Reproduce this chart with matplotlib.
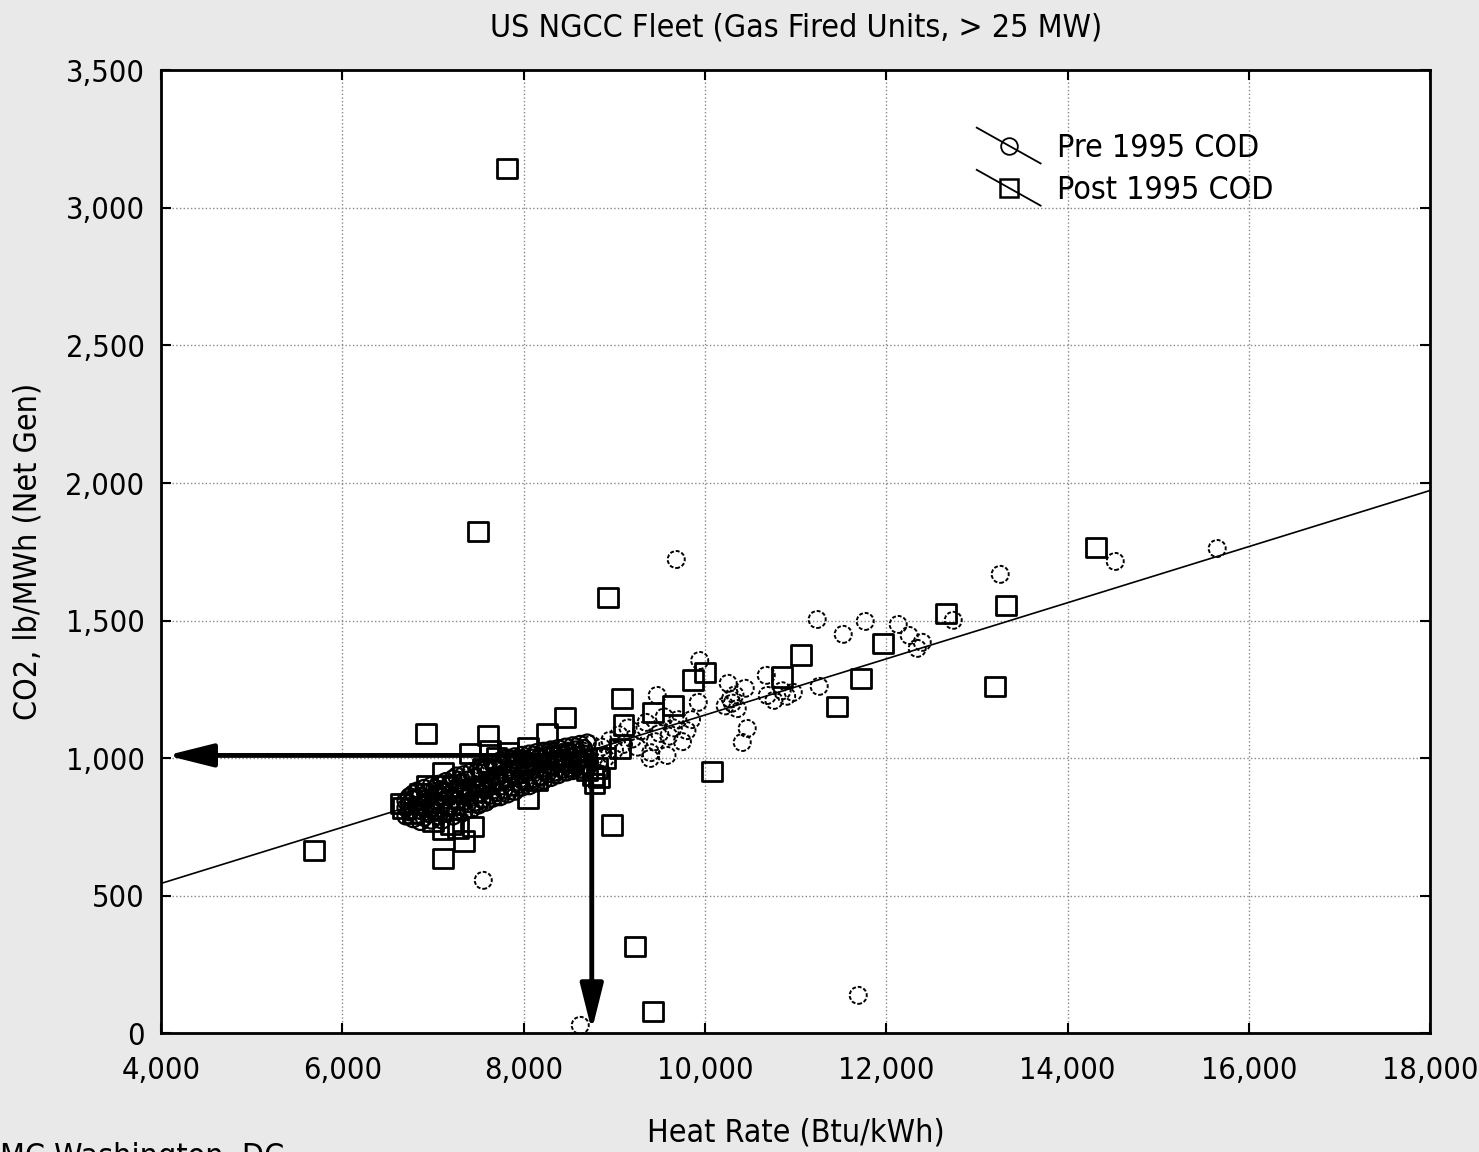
#!/usr/bin/env python

import numpy as np
import matplotlib
matplotlib.use('Agg')
import matplotlib.pyplot as plt
import matplotlib as mpl
from matplotlib.lines import Line2D
from matplotlib.legend_handler import HandlerBase

mpl.rcParams['font.family'] = ['DejaVu Sans']
mpl.rcParams['font.stretch'] = 'condensed'
mpl.rcParams['font.size'] = 22
mpl.rcParams['xtick.top'] = True
mpl.rcParams['ytick.right'] = True
mpl.rcParams['xtick.direction'] = 'in'
mpl.rcParams['ytick.direction'] = 'in'

# Pre 1995 COD units (heat rate Btu/kWh, CO2 lb/MWh)
pre_x = [6780, 6850, 6900, 6920, 6960, 7000, 7010, 7040, 7060, 7080, 7100, 7120, 7140, 7160,
         7180, 7200, 7220, 7240, 7260, 7280, 7300, 7320, 7340, 7360, 7380, 7400, 7420, 7440,
         7460, 7480, 7500, 7520, 7540, 7560, 7580, 7600, 7620, 7640, 7660, 7680, 7700, 7720,
         7740, 7760, 7780, 7800, 7820, 7840, 7860, 7880, 7900, 7920, 7940, 7960, 7980, 8000,
         8030, 8060, 8090, 8120, 8150, 8180, 8210, 8240, 8270, 8300, 8330, 8360, 8390, 8420,
         8450, 8480, 8510, 8540, 8570, 8600, 8630, 8660, 8700, 8740, 8780, 8820, 8860, 8900,
         8950, 9000, 9050, 9100, 9150, 9200, 9250, 9300, 9350, 9450, 9500, 9550, 9600, 9650,
         9700, 9750, 9800,
         9682, 7553, 11690, 8623, 13256, 14525, 15650, 11237, 11767, 11524, 12131, 12252,
         12396, 12341, 12738, 11259, 10675, 10686, 10973, 10760, 9941, 9925, 9472, 10255,
         10443, 10465, 10410, 9395, 9580, 10222, 10300, 10355, 10280, 10330, 10850, 10900,
         9850, 9400]
pre_y = [815, 830, 805, 850, 825, 790, 870, 840, 815, 885, 860, 800, 835, 900,
         870, 815, 850, 890, 830, 920, 865, 800, 900, 845, 930, 875, 820, 905,
         860, 945, 890, 835, 920, 870, 960, 905, 850, 935, 885, 970, 915, 865,
         950, 900, 985, 930, 880, 960, 915, 995, 945, 895, 975, 925, 1000, 955,
         910, 985, 940, 1010, 965, 930, 995, 955, 1020, 975, 940, 1005, 960, 1030,
         985, 950, 1015, 975, 1040, 995, 960, 1025, 985, 1050, 1005, 970, 1040, 1000,
         1065, 1030, 1085, 1050, 1110, 1070, 1040, 1100, 1130, 1060, 1090, 1150, 1080, 1110,
         1140, 1060, 1100,
         1722, 556, 138, 29, 1668, 1715, 1762, 1504, 1497, 1450, 1486, 1446,
         1421, 1399, 1501, 1261, 1301, 1228, 1239, 1210, 1355, 1203, 1228, 1272,
         1254, 1108, 1057, 999, 1010, 1190, 1200, 1180, 1215, 1230, 1245, 1225,
         1140, 1020]

# the dense core of pre 1995 units
blob_x = [6700, 6700, 6700, 6740, 6740, 6740, 6780, 6780, 6780, 6820, 6820, 6820,
          6860, 6860, 6860, 6900, 6900, 6900, 6940, 6940, 6940, 6980, 6980, 6980,
          7020, 7020, 7020, 7060, 7060, 7060, 7100, 7100, 7100, 7140, 7140, 7140,
          7180, 7180, 7180, 7220, 7220, 7220, 7260, 7260, 7260, 7300, 7300, 7300,
          7340, 7340, 7340, 7380, 7380, 7380, 7420, 7420, 7420, 7460, 7460, 7460,
          7500, 7500, 7500, 7540, 7540, 7540, 7580, 7580, 7580, 7620, 7620, 7620,
          7660, 7660, 7660, 7700, 7700, 7700, 7740, 7740, 7740, 7780, 7780, 7780,
          7820, 7820, 7820, 7860, 7860, 7860, 7900, 7900, 7900, 7940, 7940, 7940,
          7980, 7980, 7980, 8020, 8020, 8020, 8060, 8060, 8060, 8100, 8100, 8100,
          8140, 8140, 8140, 8180, 8180, 8180, 8220, 8220, 8220, 8260, 8260, 8260,
          8300, 8300, 8300, 8340, 8340, 8340, 8380, 8380, 8380, 8420, 8420, 8420,
          8460, 8460, 8460, 8500, 8500, 8500, 8540, 8540, 8540, 8580, 8580, 8580,
          8620, 8620, 8620, 8660, 8660, 8660, 8700, 8700, 8700]
blob_y = [790, 820, 845, 805, 835, 860, 780, 850, 870, 795, 825, 880,
          770, 810, 860, 785, 840, 890, 800, 855, 875, 775, 820, 900,
          810, 845, 890, 790, 860, 905, 775, 830, 880, 800, 850, 915,
          820, 865, 900, 790, 880, 925, 810, 845, 935, 825, 870, 910,
          805, 890, 940, 835, 860, 920, 815, 880, 950, 840, 900, 930,
          830, 870, 960, 850, 905, 945, 840, 885, 970, 865, 920, 955,
          855, 900, 980, 875, 935, 965, 860, 915, 990, 885, 945, 975,
          870, 925, 1000, 895, 955, 985, 880, 935, 1005, 905, 960, 990,
          895, 940, 1010, 915, 970, 995, 900, 950, 1015, 925, 975, 1000,
          910, 960, 1020, 935, 985, 1005, 920, 965, 1025, 945, 990, 1010,
          930, 970, 1030, 950, 995, 1015, 940, 980, 1035, 960, 1000, 1020,
          950, 985, 1040, 965, 1005, 1025, 955, 990, 1045, 970, 1010, 1030,
          960, 995, 1050, 975, 1015, 1035, 965, 1000, 1055]

# Post 1995 COD units
post_x = [7817, 7497, 8932, 6924, 5688, 7111, 7343, 7442, 7111, 7277, 8976, 10079, 9229,
          9428, 13201, 13323, 14316, 12661, 11966, 11723, 11458, 11061, 10851, 10002, 9869,
          9086, 9428, 9649, 8457, 8259, 7608, 7409, 7630, 7828, 8049, 7111, 6935, 6670,
          6640, 8049, 8148, 8700, 8810, 8830, 8900, 9100, 6780, 6850, 7000, 7200, 7300,
          8766, 8780, 9064, 7900, 8350, 7550, 7150, 7700]
post_y = [3143, 1824, 1584, 1090, 665, 636, 698, 752, 741, 745, 756, 952, 316,
          80, 1261, 1555, 1766, 1526, 1417, 1290, 1188, 1374, 1294, 1312, 1283,
          1217, 1166, 1192, 1148, 1090, 1083, 1017, 1028, 1021, 1039, 945, 901, 818,
          835, 854, 919, 956, 965, 930, 1000, 1120, 800, 870, 770, 760, 880,
          937, 908, 1035, 990, 1010, 960, 900, 1000]

# linear fit through the fleet
fit_intercept = 545.0   # CO2 at 4,000 Btu/kWh
fit_slope = 0.102       # lb/MWh per Btu/kWh
fit_x = [4000, 18000]

# highlighted reading
target_hr = 8750
target_co2 = 1010

x_ticks = [4000, 6000, 8000, 10000, 12000, 14000, 16000, 18000]
y_ticks = [0, 500, 1000, 1500, 2000, 2500, 3000, 3500]


class DiagHandler(HandlerBase):
    # diagonal line through the marker, as in the original legend
    def create_artists(self, legend, orig, xdescent, ydescent, width, height, fontsize, trans):
        x0, y0 = -xdescent, -ydescent
        ln = Line2D([x0, x0 + width], [y0 + height * 1.3, y0 - height * 0.3],
                    color='black', lw=1.3, transform=trans)
        mk = Line2D([x0 + width / 2], [y0 + height / 2], marker=orig.get_marker(),
                    markersize=orig.get_markersize(), markerfacecolor='none',
                    markeredgecolor='black', markeredgewidth=orig.get_markeredgewidth(),
                    linestyle='none', transform=trans)
        return [ln, mk]


fig = plt.figure(figsize=(14.79, 11.52), dpi=100, facecolor='#e9e9e9')
ax = fig.add_axes([0.109, 0.103, 0.858, 0.836])
ax.set_facecolor('white')

fx = np.array(fit_x, dtype=float)
ax.plot(fx, fit_intercept + fit_slope * (fx - 4000), color='black', lw=1.2, zorder=2)

ax.scatter(post_x, post_y, s=200, marker='s', facecolors='none', edgecolors='black',
           linewidths=2.0, zorder=3)
ax.scatter(blob_x, blob_y, s=150, marker='o', facecolors='none', edgecolors='black',
           linewidths=1.6, zorder=3)
ax.scatter(pre_x, pre_y, s=150, marker='o', facecolors='none', edgecolors='black',
           linewidths=1.4, linestyle=(0, (2, 1)), zorder=3)

ax.annotate('', xy=(4060, target_co2), xytext=(target_hr, target_co2),
            arrowprops=dict(arrowstyle='-|>,head_length=1.4,head_width=0.35',
                            lw=3.5, color='black', mutation_scale=20, shrinkA=0, shrinkB=0),
            zorder=5)
ax.annotate('', xy=(target_hr, 10), xytext=(target_hr, target_co2),
            arrowprops=dict(arrowstyle='-|>,head_length=1.4,head_width=0.35',
                            lw=3.5, color='black', mutation_scale=20, shrinkA=0, shrinkB=0),
            zorder=5)

ax.set_xlim(4000, 18000)
ax.set_ylim(0, 3500)
ax.set_xticks(x_ticks)
ax.set_yticks(y_ticks)
ax.set_xticklabels(['{:,}'.format(v) for v in x_ticks])
ax.set_yticklabels(['{:,}'.format(v) for v in y_ticks])
ax.tick_params(axis='x', pad=16)
ax.tick_params(axis='y', pad=12)
ax.tick_params(length=7, width=1.5, labelsize=22)
ax.grid(True, linestyle=':', color='#888888', lw=1.0)
ax.set_axisbelow(True)
for sp in ax.spines.values():
    sp.set_linewidth(2)

ax.set_xlabel('Heat Rate (Btu/kWh)', fontsize=23, labelpad=24)
ax.set_ylabel('CO2, lb/MWh (Net Gen)', fontsize=23, labelpad=16)
ax.set_title('US NGCC Fleet (Gas Fired Units, > 25 MW)', fontsize=23, pad=24)

h1 = Line2D([], [], marker='o', markersize=12, markeredgewidth=1.3, linestyle='none')
h2 = Line2D([], [], marker='s', markersize=13, markeredgewidth=1.8, linestyle='none')
ax.legend([h1, h2], ['Pre 1995 COD', 'Post 1995 COD'],
          handler_map={h1: DiagHandler(), h2: DiagHandler()},
          loc='upper left', bbox_to_anchor=(0.62, 0.965), frameon=False,
          fontsize=23, handlelength=2.0, handletextpad=0.5, labelspacing=0.35)

fig.text(0.0, 0.009, 'MC Washington, DC', fontsize=23, va='top', ha='left')

plt.savefig('out.png', dpi=100, facecolor=fig.get_facecolor())
